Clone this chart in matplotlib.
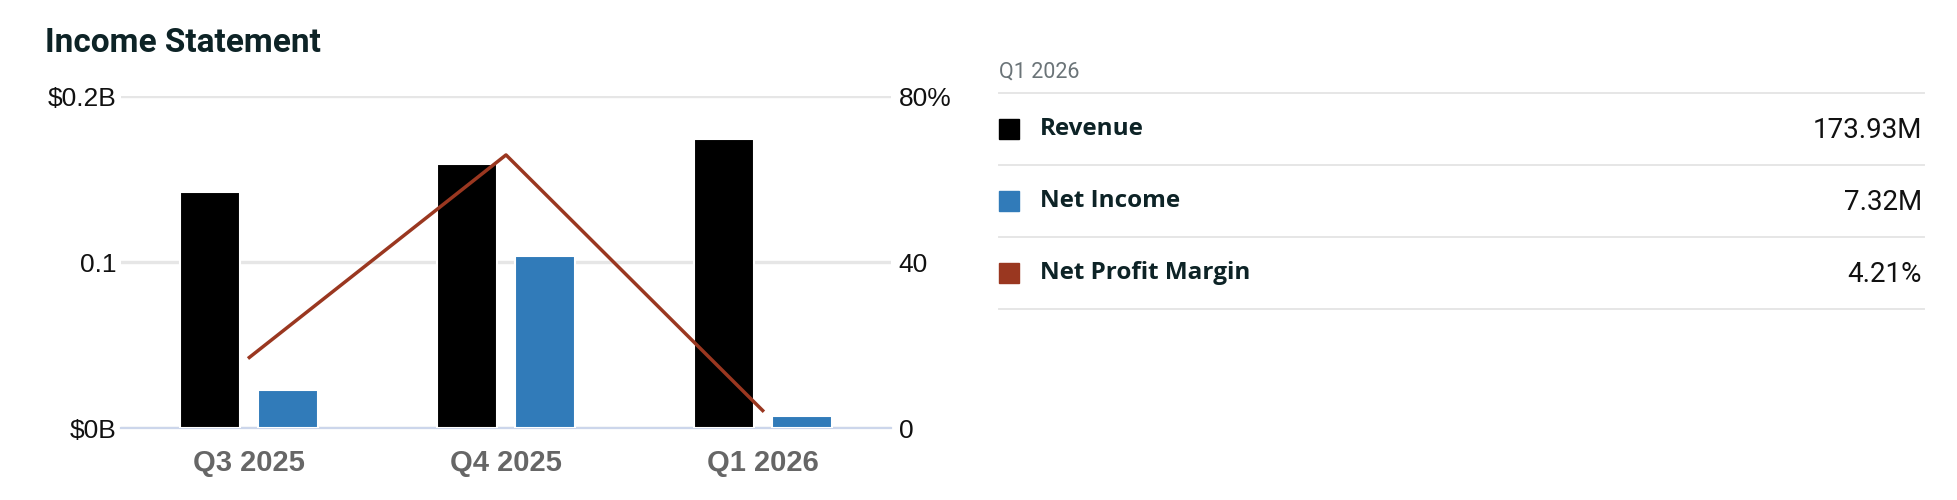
import matplotlib
matplotlib.use("Agg")
import matplotlib.pyplot as plt
from matplotlib.patches import Rectangle

# data (millions / percent)
quarters = ["Q3 2025", "Q4 2025", "Q1 2026"]
revenue = [142.2, 159.0, 173.93]
net_income = [22.9, 103.6, 7.32]
net_margin = [17.0, 65.8, 4.21]

left_ticks = [0, 100, 200]
left_labels = ["$0B", "0.1", "$0.2B"]
right_ticks = [0, 40, 80]
right_labels = ["0", "40", "80%"]

series_names = ["Revenue", "Net Income", "Net Profit Margin"]
series_colors = ["#000000", "#317bb9", "#9a3720"]

W, H = 1958, 500
plt.rcParams["font.family"] = ["Liberation Sans", "DejaVu Sans"]
fig = plt.figure(figsize=(W / 100, H / 100), dpi=100)

# main chart
ax = fig.add_axes([121 / W, 72 / H, 770 / W, 332 / H])
x = list(range(len(quarters)))
bw = 0.234
off = 0.152
ax.bar([i - off for i in x], revenue, width=bw, color=series_colors[0],
       edgecolor="white", linewidth=1.5, zorder=3)
ax.bar([i + off for i in x], net_income, width=bw, color=series_colors[1],
       edgecolor="white", linewidth=1.5, zorder=3)
ax.set_xlim(-0.5, 2.5)
ax.set_ylim(0, 200)
ax.set_yticks(left_ticks)
ax.set_yticklabels(left_labels)
ax.set_xticks(x)
ax.set_xticklabels(quarters, fontweight="bold", color="#666666", fontsize=21)
ax.grid(axis="y", color="#e6e6e6", linewidth=2.4)
ax.set_axisbelow(True)
for s in ["top", "left", "right"]:
    ax.spines[s].set_visible(False)
ax.spines["bottom"].set_color("#ccd6eb")
ax.spines["bottom"].set_linewidth(1.6)
ax.tick_params(axis="y", length=0, pad=3.5, labelsize=19, labelcolor="#111111")
ax.tick_params(axis="x", length=0, pad=15)

ax2 = ax.twinx()
ax2.plot(x, net_margin, color=series_colors[2], linewidth=2.5, zorder=4)
ax2.set_ylim(0, 80)
ax2.set_yticks(right_ticks)
ax2.set_yticklabels(right_labels)
ax2.tick_params(axis="y", length=0, pad=5.5, labelsize=19, labelcolor="#111111")
for s in ax2.spines.values():
    s.set_visible(False)

fig.text(45 / W, 1 - 43 / H, "Income Statement", fontsize=24, fontweight="bold",
         color="#0d2326", family=["Roboto", "DejaVu Sans"], va="center", ha="left")

# legend panel, in figure pixels
lg = fig.add_axes([0, 0, 1, 1])
lg.set_xlim(0, W)
lg.set_ylim(H, 0)
lg.axis("off")
lg.text(999, 72, quarters[-1], fontsize=15.5, color="#6b7478",
        family=["Roboto", "DejaVu Sans"], va="center", ha="left")
lg.plot([999, 1924], [93, 93], color="#e6e6e6", linewidth=1.4)
values = [f"{revenue[-1]:.2f}M", f"{net_income[-1]:.2f}M", f"{net_margin[-1]:.2f}%"]
for k, (name, col, val) in enumerate(zip(series_names, series_colors, values)):
    yc = 129 + 72 * k
    lg.add_patch(Rectangle((999, yc - 10), 20, 20, color=col))
    lg.text(1040, yc, name, fontsize=17.5, fontweight="bold", color="#0d2326",
            family=["Open Sans", "DejaVu Sans"], va="center", ha="left")
    lg.text(1922, yc + 1, val, fontsize=20, color="#111111",
            family=["Roboto", "DejaVu Sans"], va="center", ha="right")
    lg.plot([999, 1924], [yc + 36, yc + 36], color="#e6e6e6", linewidth=1.4)

fig.savefig("out.png", dpi=100)
